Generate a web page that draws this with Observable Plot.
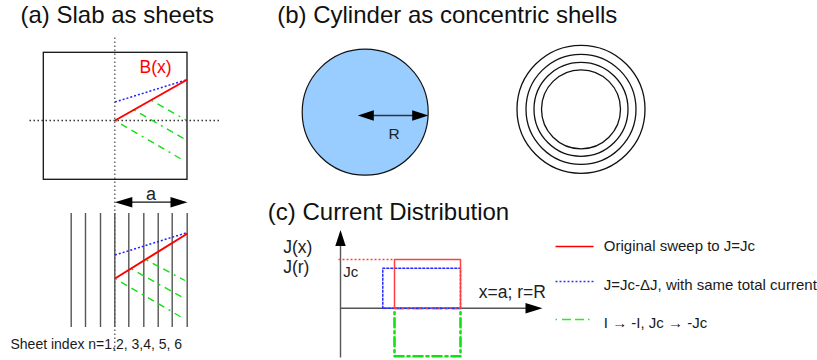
<!DOCTYPE html>
<html>
<head>
<meta charset="utf-8">
<script src="https://cdn.jsdelivr.net/npm/d3@7"></script>
<script src="https://cdn.jsdelivr.net/npm/@observablehq/plot@0.6"></script>
<style>
  html, body { margin: 0; padding: 0; background: #fff; }
  #chart svg { display: block; }
</style>
</head>
<body>
<div id="chart"></div>
<script>
// ---------- data (diagram geometry in page units) ----------
const panelTitles = ["(a) Slab as sheets", "(b) Cylinder as concentric shells", "(c) Current Distribution"];
const legendLabels = ["Original sweep to J=Jc", "J=Jc-ΔJ, with same total current", "I → -I, Jc → -Jc"];
const series = ["sweep", "reduced", "reversed"];

// (a) upper panel: field profiles B(x)
const fieldUpper = [
  {s: "sweep",    x1: 114.5, y1: 120,   x2: 187,   y2: 79},
  {s: "reduced",  x1: 114.5, y1: 101.5, x2: 187,   y2: 79},
  {s: "reversed", x1: 151,   y1: 100,   x2: 185.5, y2: 119.5},
  {s: "reversed", x1: 133.5, y1: 109.5, x2: 185,   y2: 139},
  {s: "reversed", x1: 114.5, y1: 120,   x2: 184,   y2: 160.5}
];
// (a) lower panel: same profiles across the sheets
const fieldLower = [
  {s: "sweep",    x1: 114.5, y1: 278,   x2: 187,   y2: 233},
  {s: "reduced",  x1: 114.5, y1: 254.5, x2: 187,   y2: 232},
  {s: "reversed", x1: 146,   y1: 259.5, x2: 184.5, y2: 280},
  {s: "reversed", x1: 131,   y1: 268.5, x2: 185,   y2: 298.5},
  {s: "reversed", x1: 114.5, y1: 278,   x2: 184,   y2: 318.5}
];
const sheetX = [70.7, 85, 100, 114.3, 128.3, 143.3, 157.7, 171.7, 186.7];
const shellRadii = [64, 55, 47, 39.5];
const solidRadius = 63;

// (c) current distribution profiles
const jOriginal = [[394, 307.7], [394, 259], [460, 259], [460, 307.7]];
const jReduced  = [[382.3, 307.7], [382.3, 267.7], [460, 267.7], [460, 307.7], [382.3, 307.7]];
const jReversed = [[394, 307.7], [460, 307.7], [460, 355.7], [394, 355.7], [394, 307.7]];

// ---------- styles ----------
const col = {sweep: "#ff0000", reduced: "#1f1fff", reversed: "#11e011"};
const dash = {sweep: null, reduced: "2,2", reversed: "2,5,7,5,7,5"};
const width = {sweep: 2, reduced: 1.5, reversed: 1.4};
const font = "'Liberation Sans', Arial, Helvetica, sans-serif";
const txt = "#1a1a1a";

function segs(data, s) {
  return Plot.link(data.filter(d => d.s === s), {
    x1: "x1", y1: "y1", x2: "x2", y2: "y2",
    stroke: col[s], strokeWidth: width[s], strokeDasharray: dash[s]
  });
}
function arrowHead(tipX, tipY, dir, len, half) {
  const [dx, dy] = {right: [-1, 0], left: [1, 0], up: [0, 1]}[dir];
  const bx = tipX + dx * len, by = tipY + dy * len;
  const px = dy, py = dx;
  return [[tipX, tipY], [bx + px * half, by + py * half], [bx - px * half, by - py * half], [tipX, tipY]];
}
function poly(points, opts) {
  return Plot.line(points, {x: d => d[0], y: d => d[1], ...opts});
}
function label(text, x, y, opts) {
  return Plot.text([text], {x: () => x, y: () => y, text: d => d, lineAnchor: "bottom", textAnchor: "start", fontSize: 15, fill: txt, ...opts});
}

const marks = [
  // titles
  label(panelTitles[0], 20, 22, {fontSize: 24, fill: "#111"}),
  label(panelTitles[1], 276.7, 22, {fontSize: 24, fill: "#111"}),
  label(panelTitles[2], 267.3, 219.5, {fontSize: 24, fill: "#111"}),

  // (a) upper box and dotted axes
  Plot.rect([0], {x1: () => 43.3, x2: () => 187, y1: () => 52.3, y2: () => 179.3, fill: "none", stroke: "#111", strokeWidth: 1.3}),
  Plot.link([0], {x1: () => 29, x2: () => 219, y1: () => 120, y2: () => 120, stroke: "#333", strokeWidth: 1.3, strokeDasharray: "1.5,2.5"}),
  // sheets
  Plot.ruleX(sheetX, {x: d => d, y1: () => 213, y2: () => 327, stroke: "#555", strokeWidth: 1.4}),
  Plot.link([0], {x1: () => 114.3, x2: () => 114.3, y1: () => 37, y2: () => 352, stroke: "#555", strokeWidth: 1.3, strokeDasharray: "1.5,2.5"}),
  ...series.slice().reverse().map(s => segs(fieldUpper, s)),
  ...series.slice().reverse().map(s => segs(fieldLower, s)),
  label("B(x)", 139, 72.5, {fontSize: 17.5, fill: "#ff0000"}),
  // width arrow "a"
  Plot.link([0], {x1: () => 128, x2: () => 173, y1: () => 201.7, y2: () => 201.7, stroke: "#111", strokeWidth: 1.3}),
  poly(arrowHead(114.3, 201.7, "left", 17.5, 5.2), {fill: "#000", stroke: "none"}),
  poly(arrowHead(187, 201.7, "right", 17, 5.2), {fill: "#000", stroke: "none"}),
  label("a", 150.5, 199, {fontSize: 18, textAnchor: "middle", fill: "#222"}),
  label("Sheet index n=1,2, 3,4, 5, 6", 10, 348, {fontSize: 14}),

  // (b) solid cylinder
  Plot.dot([0], {x: () => 364.7, y: () => 111.7, r: solidRadius, fill: "#99ccff", stroke: "#111", strokeWidth: 1.2}),
  Plot.link([0], {x1: () => 370, x2: () => 415, y1: () => 115, y2: () => 115, stroke: "#333", strokeWidth: 1.3}),
  poly(arrowHead(357.3, 115, "left", 16, 5.2), {fill: "#000", stroke: "none"}),
  poly(arrowHead(428, 115, "right", 16.3, 5.2), {fill: "#000", stroke: "none"}),
  label("R", 393.7, 138.3, {fontSize: 15.5, textAnchor: "middle", fill: "#222"}),
  // concentric shells
  ...shellRadii.map(r => Plot.dot([0], {x: () => 580.5, y: () => 108.8, r, fill: "none", stroke: "#111", strokeWidth: 1.3})),

  // (c) axes
  Plot.link([0], {x1: () => 340, x2: () => 340, y1: () => 244, y2: () => 357, stroke: "#555", strokeWidth: 1.4}),
  Plot.link([0], {x1: () => 340, x2: () => 527, y1: () => 307.7, y2: () => 307.7, stroke: "#555", strokeWidth: 1.4}),
  poly(arrowHead(340, 229.5, "up", 16, 5.2), {fill: "#000", stroke: "none"}),
  poly(arrowHead(542, 307.7, "right", 17, 5.2), {fill: "#000", stroke: "none"}),
  label("J(x)", 282.7, 252.7, {fontSize: 17.5, fill: "#222"}),
  label("J(r)", 282.7, 272, {fontSize: 17.5, fill: "#222"}),
  label("Jc", 342.7, 276, {fontSize: 15, fill: "#222"}),
  label("x=a; r=R", 478.3, 297.3, {fontSize: 17.5, fill: "#222"}),
  // profiles
  poly(jReversed, {stroke: "#11e011", strokeWidth: 2.6, strokeDasharray: "9,4,2,4", fill: "none"}),
  poly(jReduced, {stroke: "#2a2aff", strokeWidth: 1.5, strokeDasharray: "2,2", fill: "none"}),
  poly(jOriginal, {stroke: "#ff4040", strokeWidth: 1.5, fill: "none"}),
  Plot.link([0], {x1: () => 338, x2: () => 394, y1: () => 259, y2: () => 259, stroke: "#ff4040", strokeWidth: 1.3, strokeDasharray: "2,2"}),
  Plot.link([0], {x1: () => 395, x2: () => 460, y1: () => 307.7, y2: () => 307.7, stroke: "#ff4040", strokeWidth: 1.3, strokeDasharray: "2,4"}),

  // legend
  ...series.map((s, i) => Plot.link([0], {
    x1: () => 555, x2: () => 593, y1: () => [246, 281, 319][i], y2: () => [246, 281, 319][i],
    stroke: {sweep: "#ff0000", reduced: "#3333ff", reversed: "#22ee22"}[s],
    strokeWidth: 1.4, strokeDasharray: {sweep: null, reduced: "2,2", reversed: "1.5,5,9,4,9,4"}[s]
  })),
  ...legendLabels.map((t, i) => label(t, 603.3, [250.7, 289, 327.3][i], {fontSize: 15}))
];

const chart = Plot.plot({
  width: 817,
  height: 360,
  margin: 0,
  x: {domain: [0, 817], range: [0, 817], axis: null},
  y: {domain: [0, 360], range: [0, 360], axis: null},
  style: {fontFamily: font, background: "#fff", overflow: "visible"},
  marks
});
document.getElementById("chart").appendChild(chart);
</script>
</body>
</html>
